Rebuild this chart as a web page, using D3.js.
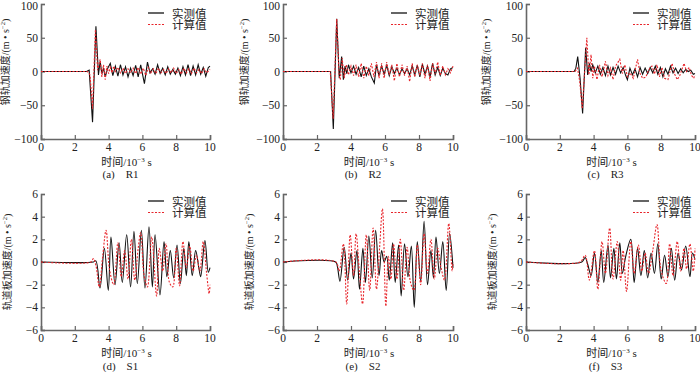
<!DOCTYPE html>
<html>
<head>
<meta charset="utf-8">
<script src="https://cdn.jsdelivr.net/npm/d3@7"></script>
<style>
  body { margin: 0; background: #fff; }
  text { font-family: "Liberation Serif", "Noto Sans CJK SC", serif; fill: #222; }
  .cjk { font-family: "Liberation Serif", "Noto Sans CJK SC", serif; }
</style>
</head>
<body>
<script>
// 数据 : [t (10^-3 s), 加速度]
var r1Meas = [[0,0],[2.7,0],[2.85,2],[3.05,-75],[3.25,67],[3.4,-5],[3.5,15],[3.6,-3],[3.7,5],[3.8,-8],[3.95,5],[4.1,12],[4.25,-6],[4.4,8],[4.55,-7],[4.7,10],[4.85,-5],[5.0,7],[5.15,-8],[5.3,5],[5.45,-6],[5.6,9],[5.75,-8],[5.9,10],[6.0,-3],[6.12,-18],[6.3,14],[6.45,-2],[6.6,4],[6.75,-4],[6.9,10],[7.05,-3],[7.2,5],[7.35,-5],[7.5,7],[7.65,-4],[7.8,3],[7.95,-4],[8.1,5],[8.25,-6],[8.4,7],[8.55,-5],[8.7,10],[8.85,-6],[9.0,8],[9.15,-5],[9.3,10],[9.45,-4],[9.6,6],[9.75,-7],[9.9,6],[10,8]];
var r1Calc = [[0,0],[2.75,0],[2.9,-5],[3.05,-55],[3.22,62],[3.35,2],[3.5,18],[3.6,-8],[3.7,10],[3.8,-12],[3.9,8],[4.0,-3],[4.1,6],[4.2,-2],[4.3,8],[4.4,0],[4.55,6],[4.7,-2],[4.85,5],[5.0,-3],[5.15,4],[5.3,-2],[5.45,5],[5.6,-3],[5.75,6],[5.9,-4],[6.05,5],[6.2,-6],[6.35,6],[6.5,-2],[6.65,4],[6.8,-3],[6.95,5],[7.1,-2],[7.25,3],[7.4,-3],[7.55,4],[7.7,-2],[7.85,5],[8.0,-3],[8.15,3],[8.3,-4],[8.45,5],[8.6,-2],[8.75,4],[8.9,-3],[9.05,5],[9.2,-2],[9.35,3],[9.5,-3],[9.65,4],[9.8,-2],[10,3]];
var r2Meas = [[0,0],[2.8,0],[2.96,-85],[3.16,78],[3.31,-10],[3.45,22],[3.55,-12],[3.65,8],[3.75,-3],[3.85,10],[4.0,-2],[4.15,8],[4.3,-4],[4.45,6],[4.6,-8],[4.75,8],[4.9,-6],[5.05,4],[5.2,-8],[5.37,-17],[5.5,10],[5.65,-6],[5.8,8],[5.95,-4],[6.1,9],[6.25,-6],[6.4,7],[6.55,-3],[6.7,5],[6.85,-5],[7.0,4],[7.15,-3],[7.3,4],[7.45,-5],[7.6,8],[7.75,-5],[7.9,9],[8.05,-8],[8.2,11],[8.35,-4],[8.5,8],[8.65,-8],[8.8,12],[8.95,-5],[9.1,6],[9.25,-6],[9.4,5],[9.55,-3],[9.7,-5],[9.85,4],[10,6]];
var r2Calc = [[0,0],[2.78,0],[2.95,-70],[3.16,78],[3.3,-5],[3.37,-12],[3.48,20],[3.6,-10],[3.72,10],[3.85,-5],[4.0,8],[4.15,-6],[4.3,10],[4.45,-8],[4.6,12],[4.75,-10],[4.9,8],[5.05,-6],[5.2,12],[5.35,-8],[5.5,14],[5.65,-10],[5.8,12],[5.95,-10],[6.1,14],[6.25,-5],[6.4,10],[6.55,-14],[6.7,12],[6.85,-8],[7.0,10],[7.15,-6],[7.3,8],[7.45,-15],[7.6,12],[7.75,-8],[7.9,10],[8.05,-6],[8.2,12],[8.35,-10],[8.5,10],[8.65,-14],[8.8,12],[8.95,-4],[9.1,14],[9.25,-6],[9.4,8],[9.55,-5],[9.7,4],[9.85,-2],[10,8]];
var r3Meas = [[0,0],[2.85,0],[2.95,5],[3.06,22],[3.2,-10],[3.35,-62],[3.53,35],[3.65,-5],[3.75,12],[3.85,0],[3.95,10],[4.1,-2],[4.25,8],[4.4,-4],[4.55,6],[4.7,-6],[4.85,8],[5.0,-5],[5.15,6],[5.3,-4],[5.45,8],[5.6,-2],[5.75,6],[5.9,-6],[6.0,-12],[6.15,5],[6.3,-5],[6.45,4],[6.6,-8],[6.75,6],[6.9,-4],[7.05,5],[7.2,-3],[7.35,6],[7.5,-2],[7.65,8],[7.8,-4],[7.95,6],[8.1,-8],[8.25,4],[8.4,-4],[8.55,8],[8.7,-2],[8.85,5],[9.0,-3],[9.15,4],[9.3,-2],[9.45,3],[9.6,0],[9.75,2],[9.9,-4],[10,-3]];
var r3Calc = [[0,0],[2.9,0],[3.05,5],[3.18,-15],[3.33,-55],[3.6,50],[3.72,-5],[3.85,25],[3.95,-10],[4.05,8],[4.2,-12],[4.35,10],[4.5,-8],[4.7,15],[4.85,-6],[5.0,5],[5.15,-12],[5.3,8],[5.55,18],[5.7,-3],[5.85,10],[6.0,-8],[6.15,-2],[6.35,-10],[6.6,18],[6.75,-3],[6.9,-10],[7.1,-8],[7.25,2],[7.45,8],[7.6,-4],[7.75,10],[7.9,-8],[8.05,6],[8.2,-10],[8.4,-12],[8.65,12],[8.8,-4],[8.95,-12],[9.1,-6],[9.35,12],[9.5,0],[9.65,6],[9.8,-6],[9.92,-10],[10,-5]];
var s1Meas = [[0,0],[3.1,0],[3.25,0.1],[3.49,-2.3],[3.75,1.2],[3.98,-2.5],[4.14,2.2],[4.38,-2.0],[4.62,1.7],[4.81,-1.8],[5.07,2.4],[5.3,-2.2],[5.5,2.7],[5.7,-1.9],[5.94,2.8],[6.15,-2.3],[6.39,3.1],[6.59,-2.2],[6.75,2.4],[7.04,-2.9],[7.28,1.8],[7.45,-1.3],[7.65,1.0],[7.85,-1.4],[8.05,1.5],[8.25,-1.9],[8.45,1.2],[8.6,-1.2],[8.75,1.8],[8.95,-1.2],[9.15,1.0],[9.35,-0.6],[9.45,-1.3],[9.7,1.9],[9.9,-0.9],[10,-0.5]];
var s1Calc = [[0,0],[2.95,0],[3.1,0.3],[3.25,-0.3],[3.45,-2.2],[3.65,0.5],[3.85,2.8],[4.05,-0.6],[4.3,-2.0],[4.55,1.7],[4.75,-1.3],[4.95,1.0],[5.15,-1.5],[5.35,2.0],[5.55,-1.6],[5.75,1.2],[5.9,2.6],[6.1,-1.2],[6.3,-2.2],[6.55,2.2],[6.84,-3.0],[7.0,1.2],[7.2,-0.8],[7.4,1.6],[7.6,-1.8],[7.8,-2.2],[8.0,1.2],[8.2,-2.1],[8.4,1.8],[8.6,-0.5],[8.8,1.4],[9.0,-0.8],[9.2,0.6],[9.4,-0.8],[9.6,1.8],[9.8,-1.0],[9.95,-2.8],[10,-2.0]];
var s2Meas = [[0,0],[3.1,0],[3.2,-0.4],[3.35,-1.7],[3.6,1.3],[3.8,-1.6],[4.0,0.8],[4.15,-1.5],[4.35,1.0],[4.5,-2.4],[4.7,1.2],[4.85,-1.8],[5.05,2.3],[5.25,-1.4],[5.45,2.8],[5.65,-1.2],[5.8,1.0],[5.95,0],[6.1,0.5],[6.25,-1.6],[6.45,1.7],[6.6,-1.8],[6.8,1.5],[6.95,-3.0],[7.15,1.6],[7.35,-1.3],[7.55,1.4],[7.72,-4.0],[7.9,1.8],[8.1,-1.7],[8.3,3.6],[8.5,-2.0],[8.7,1.0],[8.85,-1.4],[9.0,2.2],[9.2,-1.0],[9.4,1.8],[9.6,-2.5],[9.8,2.5],[10,-0.5]];
var s2Calc = [[0,0],[3.1,0],[3.3,-0.8],[3.55,1.6],[3.75,-3.7],[3.95,2.4],[4.15,-1.2],[4.3,2.5],[4.5,-1.0],[4.68,-3.7],[4.9,2.4],[5.1,-2.5],[5.3,3.0],[5.5,-2.4],[5.68,1.2],[5.85,4.7],[6.05,-3.9],[6.2,0.5],[6.35,-1.5],[6.5,1.6],[6.7,-1.5],[6.9,2.0],[7.1,-2.5],[7.3,1.3],[7.5,-1.8],[7.7,-2.5],[7.9,1.5],[8.1,-2.0],[8.3,2.5],[8.5,-1.0],[8.7,2.0],[8.9,-1.5],[9.1,1.2],[9.3,-0.5],[9.5,-1.6],[9.75,3.4],[9.95,-0.8],[10,0]];
var s3Meas = [[0,0],[3.3,0],[3.5,0.4],[3.65,-0.2],[3.85,-1.2],[4.05,0.8],[4.25,-1.8],[4.45,1.0],[4.6,-1.8],[4.85,1.5],[5.0,-1.4],[5.2,1.2],[5.35,-1.5],[5.55,1.7],[5.7,-1.0],[5.9,0.5],[6.2,2.0],[6.4,-1.8],[6.6,1.2],[6.8,-1.2],[7.0,1.0],[7.2,-1.4],[7.4,0.8],[7.6,-1.0],[7.8,1.6],[8.0,-1.5],[8.2,0.6],[8.4,-1.3],[8.6,1.2],[8.8,-1.6],[9.0,0.8],[9.2,-0.7],[9.45,1.4],[9.7,-1.3],[9.85,0.8],[10,0.2]];
var s3Calc = [[0,0],[3.2,0],[3.5,0.6],[3.75,-1.6],[4.05,1.0],[4.25,-2.4],[4.5,1.8],[4.7,-1.0],[4.95,3.0],[5.15,-1.5],[5.4,1.8],[5.6,-1.6],[5.75,1.0],[5.95,-2.6],[6.2,1.8],[6.4,-1.0],[6.65,1.5],[6.85,-0.8],[7.05,0.8],[7.25,-1.0],[7.5,1.0],[7.75,3.3],[8.0,-0.8],[8.3,-1.9],[8.5,1.6],[8.7,-1.2],[8.95,1.8],[9.15,-0.8],[9.35,1.2],[9.5,-0.6],[9.7,1.6],[9.9,-0.8],[10,1.2]];

var xTicks = [0, 2, 4, 6, 8, 10];
var railTicks = [-100, -50, 0, 50, 100];
var slabTicks = [-6, -4, -2, 0, 2, 4, 6];
var legendNames = ["实测值", "计算值"];
var captions = ["(a)\u2003R1", "(b)\u2003R2", "(c)\u2003R3", "(d)\u2003S1", "(e)\u2003S2", "(f)\u2003S3"];

var panels = [
  { cap: captions[0], meas: r1Meas, calc: r1Calc, dom: [-100, 100], ticks: railTicks, ylab: "钢轨加速度", x0: 41, x1: 210, row: 0, labX: 9 },
  { cap: captions[1], meas: r2Meas, calc: r2Calc, dom: [-100, 100], ticks: railTicks, ylab: "钢轨加速度", x0: 283, x1: 453, row: 0, labX: 248 },
  { cap: captions[2], meas: r3Meas, calc: r3Calc, dom: [-100, 100], ticks: railTicks, ylab: "钢轨加速度", x0: 526, x1: 695, row: 0, labX: 490 },
  { cap: captions[3], meas: s1Meas, calc: s1Calc, dom: [-6, 6], ticks: slabTicks, ylab: "轨道板加速度", x0: 41, x1: 210, row: 1, labX: 11 },
  { cap: captions[4], meas: s2Meas, calc: s2Calc, dom: [-6, 6], ticks: slabTicks, ylab: "轨道板加速度", x0: 283, x1: 453, row: 1, labX: 253 },
  { cap: captions[5], meas: s3Meas, calc: s3Calc, dom: [-6, 6], ticks: slabTicks, ylab: "轨道板加速度", x0: 526, x1: 695, row: 1, labX: 496 }
];
var rows = [
  { y0: 4, y1: 139, labY: 62, legY: 13, xlabY: 166, capY: 178 },
  { y0: 194, y1: 330, labY: 262, legY: 201, xlabY: 357, capY: 370 }
];

var svg = d3.select("body").append("svg")
  .attr("width", 700).attr("height", 372);

var fmt = function (d) { return d < 0 ? "\u2212" + Math.abs(d) : String(d); };

panels.forEach(function (p) {
  var r = rows[p.row];
  var x = d3.scaleLinear().domain([0, 10]).range([p.x0, p.x1]);
  var y = d3.scaleLinear().domain(p.dom).range([r.y1, r.y0]);
  var g = svg.append("g");

  // axes, ticks pointing inward
  var ax = g.append("g").attr("transform", `translate(0,${r.y1})`)
    .call(d3.axisTop(x).tickValues(xTicks).tickSize(4).tickFormat(""));
  var ay = g.append("g").attr("transform", `translate(${p.x0},0)`)
    .call(d3.axisRight(y).tickValues(p.ticks).tickSize(4).tickFormat(""));
  [ax, ay].forEach(function (a) {
    a.select(".domain").attr("stroke", "#666").attr("stroke-width", 1.6);
    a.selectAll(".tick line").attr("stroke", "#666").attr("stroke-width", 1.2);
  });

  g.selectAll(".xl").data(xTicks).enter().append("text")
    .attr("x", function (d) { return x(d); }).attr("y", r.y1 + 12)
    .attr("text-anchor", "middle").attr("font-size", 11.5).text(fmt);
  g.selectAll(".yl").data(p.ticks).enter().append("text")
    .attr("x", p.x0 - 3).attr("y", function (d) { return Math.max(y(d) + 4, 10); })
    .attr("text-anchor", "end").attr("font-size", 11.5).text(fmt);

  var line = d3.line().x(function (d) { return x(d[0]); }).y(function (d) { return y(d[1]); })
    .curve(p.row === 1 ? d3.curveCatmullRom : d3.curveLinear);
  g.append("path").datum(p.meas).attr("d", line)
    .attr("fill", "none").attr("stroke", "#111").attr("stroke-width", 1.1);
  g.append("path").datum(p.calc).attr("d", line)
    .attr("fill", "none").attr("stroke", "#e8252b").attr("stroke-width", 1.1)
    .attr("stroke-dasharray", "2,1.5");

  // legend
  var ly = r.legY;
  var lx = p.x1 - 62;
  g.append("line").attr("x1", lx).attr("x2", lx + 16).attr("y1", ly).attr("y2", ly)
    .attr("stroke", "#111").attr("stroke-width", 1.3);
  g.append("line").attr("x1", lx).attr("x2", lx + 16).attr("y1", ly + 11.5).attr("y2", ly + 11.5)
    .attr("stroke", "#e8252b").attr("stroke-width", 1.2).attr("stroke-dasharray", "2,1.5");
  legendNames.forEach(function (n, i) {
    g.append("text").attr("x", lx + 24).attr("y", ly + 4.5 + i * 11.5)
      .attr("font-size", 11.5).attr("class", "cjk").text(n);
  });

  // x label
  var xl = g.append("text").attr("x", (p.x0 + p.x1) / 2 + 1).attr("y", r.xlabY)
    .attr("text-anchor", "middle").attr("font-size", 11).attr("class", "cjk");
  xl.append("tspan").text("时间/10");
  xl.append("tspan").attr("dy", -4.5).attr("font-size", 7).text("\u22123");
  xl.append("tspan").attr("dy", 4.5).text(" s");

  // y label
  var yl = g.append("text")
    .attr("transform", `translate(${p.labX},${r.labY}) rotate(-90)`)
    .attr("text-anchor", "middle").attr("font-size", 10).attr("class", "cjk");
  yl.append("tspan").text(p.ylab + "/(m \u2022 s");
  yl.append("tspan").attr("dy", -4).attr("font-size", 6.5).text("\u22122");
  yl.append("tspan").attr("dy", 4).text(")");

  // caption
  g.append("text").attr("x", (p.x0 + p.x1) / 2 - 5).attr("y", r.capY)
    .attr("text-anchor", "middle").attr("font-size", 11).attr("class", "cjk").text(p.cap);
});
</script>
</body>
</html>
